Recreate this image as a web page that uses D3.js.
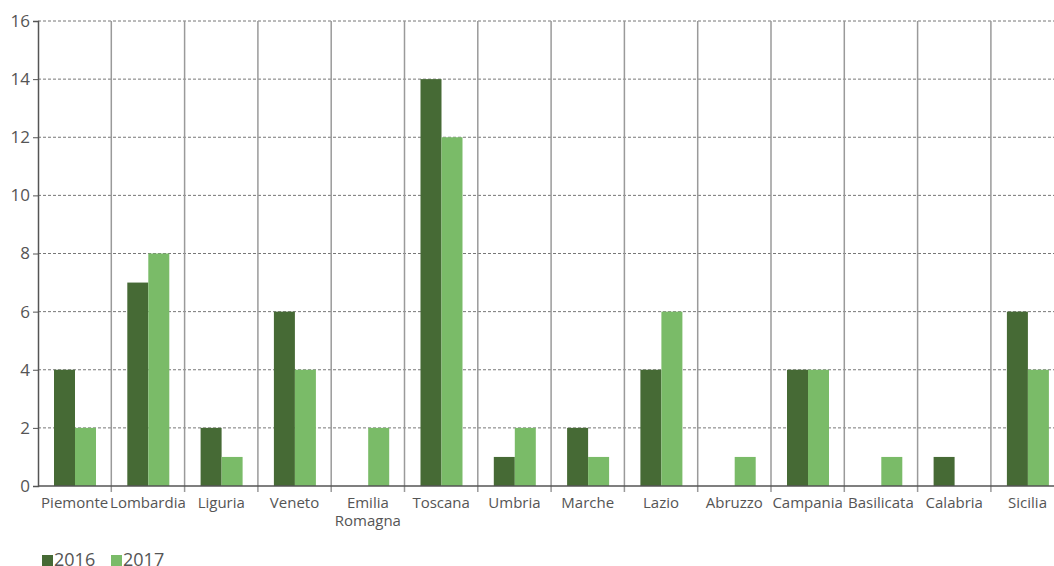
<!DOCTYPE html>
<html><head><meta charset="utf-8">
<script src="https://cdn.jsdelivr.net/npm/d3@7"></script>
<style>
html,body{margin:0;padding:0;background:#fff;}
svg{display:block;font-family:"Open Sans",sans-serif;}
</style></head>
<body>
<svg id="c" width="1054" height="566"></svg>
<script>
const categories = ["Piemonte","Lombardia","Liguria","Veneto","Emilia Romagna","Toscana","Umbria","Marche","Lazio","Abruzzo","Campania","Basilicata","Calabria","Sicilia"];
const series = ["2016","2017"];
const values2016 = [4,7,2,6,0,14,1,2,4,0,4,0,1,6];
const values2017 = [2,8,1,4,2,12,2,1,6,1,4,1,0,4];
const yTicks = [0,2,4,6,8,10,12,14,16];
const colors = ["#466a35","#7abb68"];

(function(){
const svg = d3.select("#c");
const mLeft = 38, mTop = 21, mBottom = 486, bandW = 73.3;
const x = d3.scaleBand().domain(categories).range([mLeft, mLeft + bandW*categories.length]).padding(0);
const xs = d3.scaleBand().domain(series).range([16, 16+42]).padding(0);
const y = d3.scaleLinear().domain([0,16]).range([mBottom, mTop]);

// grid
svg.append("g").selectAll("line").data(yTicks.filter(d=>d>0)).join("line")
  .attr("x1", mLeft).attr("x2", 1054).attr("y1", d=>y(d)).attr("y2", d=>y(d))
  .attr("stroke","#777").attr("stroke-width",1).attr("stroke-dasharray","3,2");

// separators
svg.append("g").selectAll("line").data(categories.slice(1)).join("line")
  .attr("x1", d=>x(d)).attr("x2", d=>x(d)).attr("y1", mTop).attr("y2", mBottom+6)
  .attr("stroke","#9a9a9a").attr("stroke-width",1.5);

// bars
const data = categories.map((c,i)=>({c, v:[values2016[i], values2017[i]]}));
const g = svg.append("g").selectAll("g").data(data).join("g")
  .attr("transform", d=>`translate(${x(d.c)},0)`);
g.selectAll("rect").data(d=>series.map((s,j)=>({s, v:d.v[j], j}))).join("rect")
  .attr("x", d=>xs(d.s)).attr("width", xs.bandwidth())
  .attr("y", d=>y(d.v)).attr("height", d=>mBottom - y(d.v))
  .attr("fill", d=>colors[d.j]);

// y axis
const ya = svg.append("g").attr("transform",`translate(${mLeft},0)`)
  .call(d3.axisLeft(y).tickValues(yTicks).tickSize(5).tickPadding(3));
ya.select(".domain").attr("stroke","#555").attr("stroke-width",1.5);
ya.selectAll(".tick line").attr("stroke","#555");
ya.selectAll(".tick text").attr("fill","#555").style("font-size","17px").style("font-family","Open Sans");

// x baseline
svg.append("line").attr("x1",mLeft).attr("x2",1054).attr("y1",mBottom).attr("y2",mBottom)
  .attr("stroke","#555").attr("stroke-width",1.5);

// x labels
const xl = svg.append("g").selectAll("text").data(categories).join("text")
  .attr("x", d=>x(d)+bandW/2).attr("y", 508)
  .attr("text-anchor","middle").attr("fill","#555").style("font-size","15px");
xl.each(function(d){
  const parts = d === "Emilia Romagna" ? ["Emilia","Romagna"] : [d];
  const t = d3.select(this);
  parts.forEach((p,i)=>t.append("tspan").attr("x", x(d)+bandW/2).attr("dy", i===0?0:18).text(p));
});

// legend
const lg = svg.append("g");
const lx = [42, 111];
series.forEach((s,i)=>{
  lg.append("rect").attr("x", lx[i]).attr("y", 555).attr("width", 11).attr("height", 11).attr("fill", colors[i]);
  lg.append("text").attr("x", lx[i]+12).attr("y", 566).attr("fill","#555").style("font-size","18px").text(s);
});
})();
</script>
</body></html>
